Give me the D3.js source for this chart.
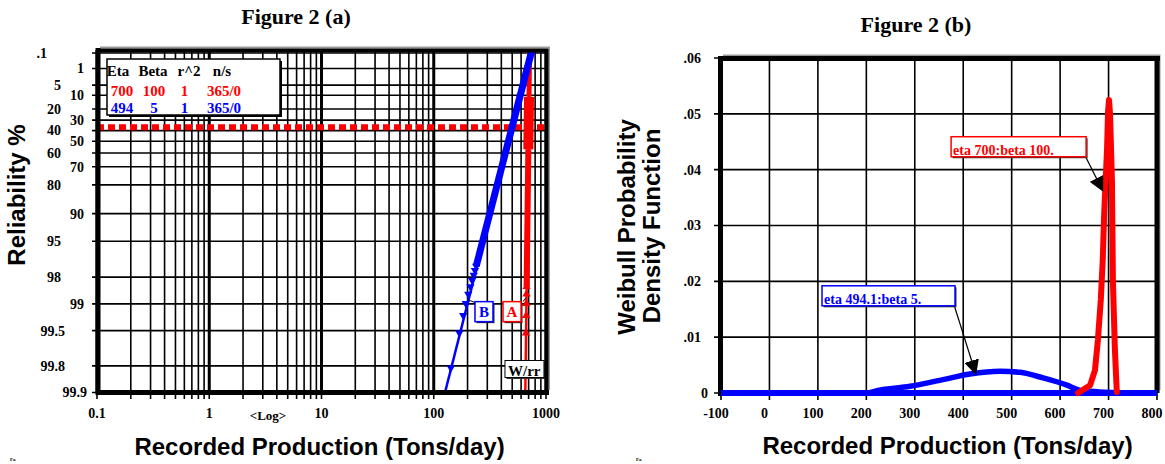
<!DOCTYPE html>
<html>
<head>
<meta charset="utf-8">
<script src="https://cdn.jsdelivr.net/npm/d3@7"></script>
<style>
  body { margin: 0; background: #fff; }
  svg { display: block; }
</style>
</head>
<body>
<div id="chart"></div>
<script>
// ---------- Figure 2 (a) : Weibull plot ----------
const relTicks = [0.1, 1, 5, 10, 20, 30, 40, 50, 60, 70, 80, 90, 95, 98, 99, 99.5, 99.8, 99.9];
const relTickLabels = [".1", "1", "5", "10", "20", "30", "40", "50", "60", "70", "80", "90", "95", "98", "99", "99.5", "99.8", "99.9"];
const prodTicks = [0.1, 1, 10, 100, 1000];
const prodTickLabels = ["0.1", "1", "10", "100", "1000"];

const legendHeader = ["Eta", "Beta", "r^2", "n/s"];
const legendRed = ["700", "100", "1", "365/0"];
const legendBlue = ["494", "5", "1", "365/0"];

// eta line (63.2% occurrence)
const etaRel = 36.79;

// blue set (B): fit line, sparse points, dense band
const blueFitProd = [126, 752];
const blueFitRel = [99.9, 0.05];
const blueMarkProd = [142, 169, 183, 193, 203, 212, 220, 227, 233, 239];
const blueMarkRel = [99.81, 99.53, 99.26, 98.99, 98.71, 98.44, 98.17, 97.90, 97.62, 97.35];
const blueBandProd = [239, 752];
const blueBandRel = [97.35, 0.05];

// red set (A)
const redFitProd = [654, 716];
const redFitRel = [99.9, 0.05];
const redMarkProd = [657, 663, 666, 668, 670, 671];
const redMarkRel = [99.81, 99.53, 99.26, 98.99, 98.71, 98.44];
const redBandProd = [672, 696, 706, 714];
const redBandRel = [98.44, 57, 11, 0.05];

// ---------- Figure 2 (b) : probability density ----------
const pdfXTicks = [-100, 0, 100, 200, 300, 400, 500, 600, 700, 800];
const pdfYTicks = [0, 0.01, 0.02, 0.03, 0.04, 0.05, 0.06];
const pdfYLabels = ["0", ".01", ".02", ".03", ".04", ".05", ".06"];

const blueBaseX = [-100, 800];
const blueBaseY = [0, 0];
const bluePdfX = [205, 222, 290, 358, 414, 476, 517, 565, 614, 640, 680, 740];
const bluePdfY = [0, 0.0004, 0.0012, 0.0024, 0.0034, 0.0039, 0.0037, 0.0027, 0.0014, 0.0005, 0.0002, 0];
const redPdfX = [637, 662, 672, 678, 684, 688, 691, 697, 699, 701, 703, 707, 709, 713, 717];
const redPdfY = [0, 0.0014, 0.0041, 0.0095, 0.0167, 0.0238, 0.0322, 0.044, 0.0505, 0.0525, 0.050, 0.038, 0.020, 0.008, 0.0002];

const serif = "'Liberation Serif', 'Times New Roman', serif";
const sans = "'Liberation Sans', Arial, sans-serif";
const RED = "#ff0000", BLUE = "#0000ff";

const svg = d3.select("#chart").append("svg")
    .attr("width", 1165)
    .attr("height", 464)
    .style("font-family", serif);

const defs = svg.append("defs");
defs.append("clipPath").attr("id", "clipA")
  .append("rect").attr("x", 97).attr("y", 50).attr("width", 450).attr("height", 342);
defs.append("marker")
    .attr("id", "head")
    .attr("viewBox", "0 0 14 14")
    .attr("refX", 13).attr("refY", 7)
    .attr("markerWidth", 15).attr("markerHeight", 15)
    .attr("markerUnits", "userSpaceOnUse")
    .attr("orient", "auto")
  .append("path").attr("d", "M0,0 L14,7 L0,14 Z").attr("fill", "#000");

// ================= (a) =================
const xA = d3.scaleLog().domain([0.1, 1000]).range([97, 546]);
const tf = (r) => Math.log(-Math.log(r / 100));
const yA = d3.scaleLinear().domain([tf(99.9), tf(0.1)]).range([392.5, 53]);
const yR = (r) => yA(tf(r));

const ga = svg.append("g");

ga.append("text")
    .attr("x", 296).attr("y", 24)
    .attr("text-anchor", "middle")
    .style("font-size", "22px").style("font-weight", "bold")
    .text("Figure 2 (a)");

// grid
const isDecade = (v) => Math.abs(Math.log10(v) - Math.round(Math.log10(v))) < 1e-9;
const minor = xA.ticks();
ga.append("g").selectAll("line")
  .data(minor).enter()
  .append("line")
    .attr("x1", (d) => xA(d)).attr("x2", (d) => xA(d))
    .attr("y1", 50).attr("y2", 392)
    .attr("stroke", "#000")
    .attr("stroke-width", (d) => isDecade(d) ? 3 : 1.6);

ga.append("g").selectAll("line")
  .data(relTicks).enter()
  .append("line")
    .attr("x1", 92).attr("x2", 546)
    .attr("y1", (d) => yR(d)).attr("y2", (d) => yR(d))
    .attr("stroke", "#000").attr("stroke-width", 1.6);

// bottom minor ticks
ga.append("g").selectAll("line")
  .data(minor).enter()
  .append("line")
    .attr("x1", (d) => xA(d)).attr("x2", (d) => xA(d))
    .attr("y1", 392).attr("y2", 399)
    .attr("stroke", "#000").attr("stroke-width", 1.6);

// y labels (staggered like the original)
const nearCol = new Set(["1", "10", "30", "50", "70", "90", "99"]);
const labelX = { ".1": 47, "99.9": 87, "99.5": 65, "99.8": 65 };
ga.append("g").selectAll("text")
  .data(relTicks).enter()
  .append("text")
    .attr("x", (d, i) => labelX[relTickLabels[i]] ?? (nearCol.has(relTickLabels[i]) ? 84 : 61))
    .attr("y", (d) => yR(d))
    .attr("dy", "0.35em")
    .attr("text-anchor", "end")
    .style("font-size", "14px").style("font-weight", "bold")
    .text((d, i) => relTickLabels[i]);

ga.append("g").selectAll("text")
  .data(prodTicks).enter()
  .append("text")
    .attr("x", (d) => xA(d)).attr("y", 418)
    .attr("text-anchor", "middle")
    .style("font-size", "14px").style("font-weight", "bold")
    .text((d, i) => prodTickLabels[i]);

ga.append("text")
    .attr("x", 268).attr("y", 420)
    .attr("text-anchor", "middle")
    .style("font-size", "13px").style("font-weight", "bold")
    .text("<Log>");

// legend table
ga.append("rect").attr("x", 109).attr("y", 61).attr("width", 173).attr("height", 56).attr("fill", "#000");
ga.append("rect").attr("x", 107).attr("y", 59).attr("width", 173).attr("height", 56)
    .attr("fill", "#fff").attr("stroke", "#000").attr("stroke-width", 1.5);
const headX = [118, 153, 189, 222];
const valX = [122, 154, 184.5, 224];
const legRows = [
  { cells: legendHeader, color: "#000", y: 76, xs: headX },
  { cells: legendRed, color: RED, y: 96, xs: valX },
  { cells: legendBlue, color: BLUE, y: 113, xs: valX }
];
legRows.forEach((row) => {
  ga.append("g").selectAll("text")
    .data(row.cells).enter()
    .append("text")
      .attr("x", (d, i) => row.xs[i]).attr("y", row.y)
      .attr("text-anchor", "middle")
      .attr("fill", row.color)
      .style("font-size", "15px").style("font-weight", "bold")
      .text((d) => d);
});

const plotA = ga.append("g").attr("clip-path", "url(#clipA)");

// eta line
plotA.append("line")
    .attr("x1", 97).attr("x2", 547)
    .attr("y1", yR(etaRel)).attr("y2", yR(etaRel))
    .attr("stroke", RED).attr("stroke-width", 6)
    .attr("stroke-dasharray", "7,4");

// W/rr box
const wrx = xA(431), wry = yR(99.77);
ga.append("rect").attr("x", wrx + 1.5).attr("y", wry + 1.5).attr("width", 39).attr("height", 17).attr("fill", "#333");
ga.append("rect").attr("x", wrx).attr("y", wry).attr("width", 39).attr("height", 17)
    .attr("fill", "#fff").attr("stroke", "#000").attr("stroke-width", 1);
ga.append("text").attr("x", wrx + 3).attr("y", wry + 15.5)
    .style("font-size", "15px").style("font-weight", "bold").text("W/rr");

const lineA = d3.line().x((d) => xA(d[0])).y((d) => yR(d[1]));
const tri = d3.symbol().type(d3.symbolTriangle).size(30);

// red set
plotA.append("path")
    .datum(d3.zip(redFitProd, redFitRel))
    .attr("d", lineA).attr("fill", "none")
    .attr("stroke", RED).attr("stroke-width", 2.5);
const redW = [6, 10, 5];
d3.range(redBandProd.length - 1).forEach((i) => {
  plotA.append("path")
      .datum([[redBandProd[i], redBandRel[i]], [redBandProd[i + 1], redBandRel[i + 1]]])
      .attr("d", lineA).attr("fill", "none")
      .attr("stroke", RED).attr("stroke-width", redW[i]);
});
plotA.append("g").selectAll("path")
  .data(d3.zip(redMarkProd, redMarkRel)).enter()
  .append("path")
    .attr("d", tri)
    .attr("transform", (d) => `translate(${xA(d[0])},${yR(d[1])})`)
    .attr("fill", RED);

// blue set
plotA.append("path")
    .datum(d3.zip(blueFitProd, blueFitRel))
    .attr("d", lineA).attr("fill", "none")
    .attr("stroke", BLUE).attr("stroke-width", 2.5);
plotA.append("path")
    .datum(d3.zip(blueBandProd, blueBandRel))
    .attr("d", lineA).attr("fill", "none")
    .attr("stroke", BLUE).attr("stroke-width", 7);
plotA.append("g").selectAll("path")
  .data(d3.zip(blueMarkProd, blueMarkRel)).enter()
  .append("path")
    .attr("d", tri)
    .attr("transform", (d) => `translate(${xA(d[0])},${yR(d[1])}) rotate(180)`)
    .attr("fill", BLUE);

// A / B label boxes
const tags = [
  { text: "B", color: BLUE, prod: 233, rel: 98.94 },
  { text: "A", color: RED, prod: 414, rel: 98.94 }
];
tags.forEach((t) => {
  const x = xA(t.prod), y = yR(t.rel);
  if (t.text === "B") {
    ga.append("line").attr("x1", x - 7).attr("y1", y - 2).attr("x2", x).attr("y2", y + 1)
      .attr("stroke", "#000").attr("stroke-width", 1);
  } else {
    ga.append("line").attr("x1", x + 20).attr("y1", y).attr("x2", x + 23).attr("y2", y - 4)
      .attr("stroke", "#000").attr("stroke-width", 1);
  }
  ga.append("rect").attr("x", x + 1.5).attr("y", y + 1.5).attr("width", 18).attr("height", 20).attr("fill", "#222");
  ga.append("rect").attr("x", x).attr("y", y).attr("width", 18).attr("height", 20)
      .attr("fill", "#fff").attr("stroke", t.color).attr("stroke-width", 1.5);
  ga.append("text").attr("x", x + 9).attr("y", y + 15)
      .attr("text-anchor", "middle").attr("fill", t.color)
      .style("font-size", "15px").style("font-weight", "bold").text(t.text);
});

// frame
ga.append("path").attr("d", "M100,47.5 L549,47.5 L549,390")
    .attr("fill", "none").attr("stroke", "#999").attr("stroke-width", 2);
ga.append("line").attr("x1", 97).attr("x2", 548).attr("y1", 50.5).attr("y2", 50.5)
    .attr("stroke", "#000").attr("stroke-width", 4);
ga.append("line").attr("x1", 546.5).attr("x2", 546.5).attr("y1", 49).attr("y2", 392)
    .attr("stroke", "#000").attr("stroke-width", 4);
ga.append("line").attr("x1", 98).attr("x2", 98).attr("y1", 48).attr("y2", 395)
    .attr("stroke", "#000").attr("stroke-width", 5);
ga.append("line").attr("x1", 96).attr("x2", 549).attr("y1", 392.5).attr("y2", 392.5)
    .attr("stroke", "#000").attr("stroke-width", 5);

// axis titles
ga.append("text")
    .attr("x", 319.5).attr("y", 455)
    .attr("text-anchor", "middle")
    .style("font-family", sans).style("font-size", "24px").style("font-weight", "bold")
    .text("Recorded Production (Tons/day)");
ga.append("text")
    .attr("transform", "translate(25,195) rotate(-90)")
    .attr("text-anchor", "middle")
    .style("font-family", sans).style("font-size", "24px").style("font-weight", "bold")
    .text("Reliability %");

// ================= (b) =================
const xB = d3.scaleLinear().domain([-100, 800]).range([721, 1157]);
const yB = d3.scaleLinear().domain([0, 0.06]).range([393, 58]);
const gb = svg.append("g");

gb.append("text")
    .attr("x", 916).attr("y", 32)
    .attr("text-anchor", "middle")
    .style("font-size", "22px").style("font-weight", "bold")
    .text("Figure 2 (b)");

gb.append("g").selectAll("line")
  .data(pdfXTicks).enter()
  .append("line")
    .attr("x1", (d) => xB(d)).attr("x2", (d) => xB(d))
    .attr("y1", 58).attr("y2", 400)
    .attr("stroke", "#000").attr("stroke-width", 1.6);
gb.append("g").selectAll("line")
  .data(pdfYTicks).enter()
  .append("line")
    .attr("x1", 714).attr("x2", 1157)
    .attr("y1", (d) => yB(d)).attr("y2", (d) => yB(d))
    .attr("stroke", "#000").attr("stroke-width", 1.6);

gb.append("g").selectAll("text")
  .data(pdfYTicks).enter()
  .append("text")
    .attr("x", (d) => d === 0 ? 708 : 701)
    .attr("y", (d) => yB(d))
    .attr("dy", "0.35em")
    .attr("text-anchor", "end")
    .style("font-size", "14px").style("font-weight", "bold")
    .text((d, i) => pdfYLabels[i]);
gb.append("g").selectAll("text")
  .data(pdfXTicks).enter()
  .append("text")
    .attr("x", (d) => xB(d) - 5).attr("y", 418)
    .attr("text-anchor", "middle")
    .style("font-size", "14px").style("font-weight", "bold")
    .text((d) => d);

// frame
gb.append("path").attr("d", "M723,55.5 L1159.5,55.5 L1159.5,390")
    .attr("fill", "none").attr("stroke", "#999").attr("stroke-width", 2);
gb.append("line").attr("x1", 718).attr("x2", 1160).attr("y1", 58.5).attr("y2", 58.5)
    .attr("stroke", "#000").attr("stroke-width", 5);
gb.append("line").attr("x1", 1157).attr("x2", 1157).attr("y1", 56).attr("y2", 393)
    .attr("stroke", "#000").attr("stroke-width", 5);
gb.append("line").attr("x1", 720.5).attr("x2", 720.5).attr("y1", 56).attr("y2", 396)
    .attr("stroke", "#000").attr("stroke-width", 5);

const lineB = d3.line().x((d) => xB(d[0])).y((d) => yB(d[1]));

gb.append("path")
    .datum(d3.zip(blueBaseX, blueBaseY))
    .attr("d", lineB).attr("fill", "none")
    .attr("stroke", BLUE).attr("stroke-width", 6);
gb.append("path")
    .datum(d3.zip(bluePdfX, bluePdfY))
    .attr("d", lineB.curve(d3.curveMonotoneX)).attr("fill", "none")
    .attr("stroke", BLUE).attr("stroke-width", 5.5);
gb.append("path")
    .datum(d3.zip(redPdfX, redPdfY))
    .attr("d", lineB.curve(d3.curveLinear)).attr("fill", "none")
    .attr("stroke", RED).attr("stroke-width", 6)
    .attr("stroke-linejoin", "round").attr("stroke-linecap", "round");

// callouts
const callouts = [
  { text: "eta 700:beta 100.", color: RED, x: 375, y: 0.0459, w: 135, tipX: 688, tipY: 0.0362 },
  { text: "eta 494.1:beta 5.", color: BLUE, x: 108.5, y: 0.0192, w: 133, tipX: 426, tipY: 0.0034 }
];
callouts.forEach((c) => {
  const x = xB(c.x), y = yB(c.y);
  gb.append("line")
      .attr("x1", x + c.w - 1).attr("y1", y + 19)
      .attr("x2", xB(c.tipX)).attr("y2", yB(c.tipY))
      .attr("stroke", "#000").attr("stroke-width", 1.2)
      .attr("marker-end", "url(#head)");
  gb.append("rect").attr("x", x + 1.5).attr("y", y + 1.5).attr("width", c.w).attr("height", 20).attr("fill", "#333");
  gb.append("rect").attr("x", x).attr("y", y).attr("width", c.w).attr("height", 20)
      .attr("fill", "#fff").attr("stroke", c.color).attr("stroke-width", 1.5);
  gb.append("text").attr("x", x + 2).attr("y", y + 18)
      .attr("fill", c.color)
      .style("font-size", "14px").style("font-weight", "bold")
      .text(c.text);
});

gb.append("text")
    .attr("x", 947.5).attr("y", 454)
    .attr("text-anchor", "middle")
    .style("font-family", sans).style("font-size", "24px").style("font-weight", "bold")
    .text("Recorded Production (Tons/day)");
gb.append("text")
    .attr("transform", "translate(635,227) rotate(-90)")
    .attr("text-anchor", "middle")
    .style("font-family", sans).style("font-size", "24px").style("font-weight", "bold")
    .text("Weibull Probability");
gb.append("text")
    .attr("transform", "translate(660,226) rotate(-90)")
    .attr("text-anchor", "middle")
    .style("font-family", sans).style("font-size", "24px").style("font-weight", "bold")
    .text("Density Function");

// stray tiny marks of the original scan
[[10, 461], [636, 461]].forEach((p) => {
  svg.append("text").attr("x", p[0]).attr("y", p[1])
    .style("font-size", "5px").style("font-weight", "bold").text("Fa");
});
</script>
</body>
</html>
